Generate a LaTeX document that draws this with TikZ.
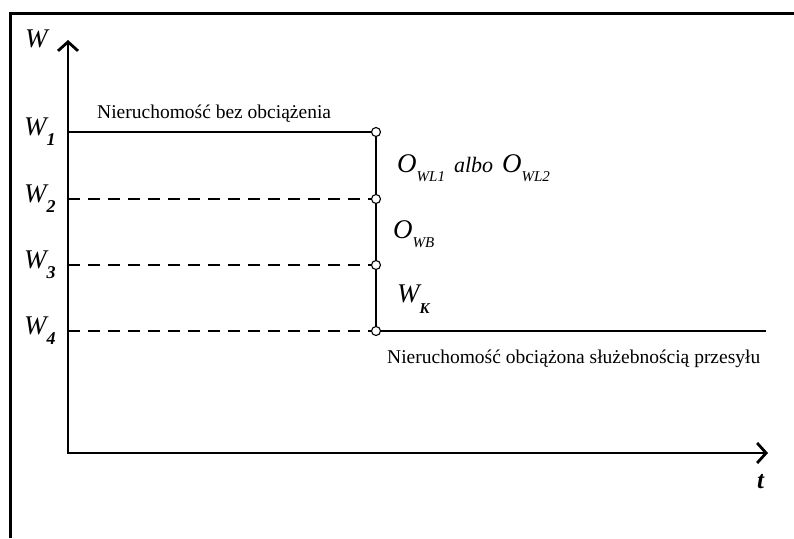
\documentclass[tikz,border=0pt]{standalone}
\usepackage{fontspec}
\setmainfont{Liberation Serif}
\usetikzlibrary{arrows.meta}
\newcommand{\Wl}[1]{{\fontsize{27}{27}\selectfont\itshape W}\raisebox{-10pt}{\fontsize{18}{18}\selectfont\bfseries\itshape #1}}
\newcommand{\Osub}[2]{{\fontsize{27}{27}\selectfont\itshape #1}\raisebox{-9pt}{\fontsize{15}{15}\selectfont\itshape #2}}
\begin{document}
\begin{tikzpicture}[x=1pt,y=-1pt,
  axis/.style={line width=2.8pt, {Straight Barb[length=9pt,width=20pt]}-{Straight Barb[length=9pt,width=20pt]}},
  lev/.style={line width=1.8pt},
  dashlev/.style={line width=1.8pt, dash pattern=on 12pt off 8pt},
  pt/.style={circle, draw, fill=white, inner sep=0pt, minimum size=9pt, line width=1.1pt},
  lbl/.style={anchor=base west, inner sep=0pt},
  txt/.style={font=\fontsize{19.5}{20}\selectfont, anchor=base west, inner sep=0pt}]
\useasboundingbox (0,0) rectangle (794,538);
\draw[line width=3pt] (10,538) -- (10,13) -- (794,13);

\coordinate (O) at (68,453);
\coordinate (ytip) at (68,40);
\coordinate (xtip) at (768,453);
\draw[axis] (ytip) -- (O) -- (xtip);

\coordinate (a1) at (68,132);
\coordinate (a2) at (68,199);
\coordinate (a3) at (68,265);
\coordinate (a4) at (68,331);
\coordinate (c1) at (376,132);
\coordinate (c2) at (376,199);
\coordinate (c3) at (376,265);
\coordinate (c4) at (376,331);
\coordinate (e4) at (766,331);

\draw[lev] (a1) -- (c1) -- (c2) -- (c3) -- (c4) -- (e4);
\draw[dashlev] (a2) -- (c2);
\draw[dashlev] (a3) -- (c3);
\draw[dashlev] (a4) -- (c4);

\node[pt] (p1) at (c1) {};
\node[pt] (p2) at (c2) {};
\node[pt] (p3) at (c3) {};
\node[pt] (p4) at (c4) {};

\node[lbl] (lW) at (25,47) {\fontsize{27}{27}\selectfont\itshape W};
\node[lbl] (lW1) at (24,135) {\Wl{1}};
\node[lbl] (lW2) at (24,202) {\Wl{2}};
\node[lbl] (lW3) at (24,268) {\Wl{3}};
\node[lbl] (lW4) at (24,334) {\Wl{4}};
\node[lbl] (lt) at (757,488) {\fontsize{25}{25}\selectfont\bfseries\itshape t};

\node[txt] (top) at (97,118) {Nieruchomość bez obciążenia};
\node[txt] (bot) at (387,363) {Nieruchomość obciążona służebnością przesyłu};

\node[lbl] (owl) at (397,172) {\Osub{O}{WL1}\hspace{9pt}{\fontsize{22}{22}\selectfont\itshape albo}\hspace{9pt}\Osub{O}{WL2}};
\node[lbl] (owb) at (393,238) {\Osub{O}{WB}};
\node[lbl] (wk) at (397,302) {{\fontsize{27}{27}\selectfont\itshape W}\raisebox{-11pt}{\fontsize{15}{15}\selectfont\bfseries\itshape K}};
\end{tikzpicture}
\end{document}
